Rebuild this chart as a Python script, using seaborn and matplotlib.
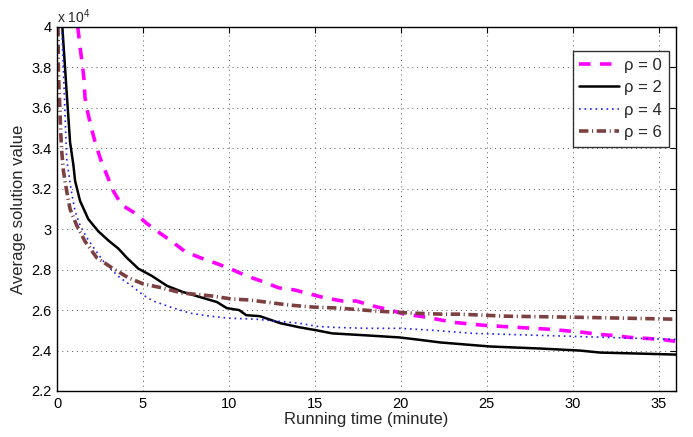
import numpy as np
import pandas as pd
import matplotlib
matplotlib.use("Agg")
import matplotlib.pyplot as plt
import seaborn as sns
from matplotlib.ticker import FuncFormatter, MultipleLocator

# ==== data (x in minutes, y raw solution value) ====
rho0_x = [1.21, 1.34, 1.47, 1.57, 1.63, 1.78, 2.0, 2.25, 2.56, 3.27, 3.76, 4.53, 5.2, 6.0,
          6.67, 7.44, 8.3, 9.3, 10.2, 11.0, 12.0, 12.9, 13.8, 14.7, 15.6, 16.6, 17.4, 18.4,
          19.4, 20.2, 21.1, 22.1, 23.0, 24.8, 26.7, 28.7, 30.6, 31.5, 32.3, 33.3, 34.3, 35.2,
          36.0]
rho0_y = [40000, 39000, 38200, 37400, 36500, 35800, 35000, 34200, 33400, 31900, 31200, 30800,
          30300, 29800, 29400, 28900, 28600, 28300, 28000, 27700, 27400, 27100, 27000, 26800,
          26600, 26450, 26450, 26200, 26000, 25800, 25700, 25550, 25400, 25250, 25150, 25050,
          24900, 24800, 24750, 24650, 24600, 24550, 24450]

rho2_x = [0.31, 0.56, 0.76, 0.95, 1.05, 1.34, 1.82, 2.4, 2.98, 3.56, 4.05, 4.73, 5.5, 6.4,
          7.3, 8.3, 9.3, 9.87, 10.6, 11.0, 11.8, 13.0, 14.1, 15.1, 16.0, 18.0, 19.9, 20.9,
          22.3, 25.2, 28.1, 30.4, 31.6, 33.9, 36.0]
rho2_y = [40000, 36800, 34300, 33200, 32400, 31400, 30500, 29900, 29450, 29050, 28600, 28050,
          27700, 27200, 26900, 26650, 26400, 26100, 26000, 25750, 25700, 25350, 25150, 25000,
          24850, 24750, 24650, 24550, 24400, 24200, 24100, 24000, 23900, 23850, 23800]

rho4_x = [0.28, 0.42, 0.56, 0.62, 0.85, 1.05, 1.34, 1.72, 2.2, 2.8, 3.66, 4.34, 5.0, 5.6,
          6.6, 7.73, 8.9, 10.0, 11.6, 12.2, 14.1, 15.1, 16.0, 18.0, 19.9, 21.9, 24.2, 28.1,
          32.0, 36.0]
rho4_y = [40000, 36800, 33500, 33100, 31800, 30900, 30200, 29600, 29000, 28300, 27600, 27200,
          26750, 26450, 26150, 25850, 25700, 25600, 25550, 25500, 25350, 25200, 25150, 25100,
          25100, 25000, 24850, 24750, 24650, 24550]

rho6_x = [0.06, 0.08, 0.12, 0.17, 0.21, 0.27, 0.37, 0.56, 0.76, 1.14, 1.63, 2.3, 3.18, 4.15,
          5.0, 6.1, 7.25, 9.0, 10.15, 11.2, 13.5, 14.9, 16.4, 18.6, 20.7, 22.4, 23.4, 26.1,
          30.0, 33.1, 36.0]
rho6_y = [40000, 37900, 36900, 35900, 34900, 33900, 32900, 31900, 31000, 30200, 29400, 28600,
          28100, 27600, 27300, 27100, 26850, 26700, 26550, 26500, 26250, 26150, 26100, 25950,
          25850, 25800, 25800, 25700, 25650, 25600, 25550]

labels = ["ρ = 0", "ρ = 2", "ρ = 4", "ρ = 6"]
xticks = [0, 5, 10, 15, 20, 25, 30, 35]

sns.set_style("white")
plt.rcParams["font.family"] = ["Liberation Sans", "DejaVu Sans"]
plt.rcParams["mathtext.fontset"] = "custom"
plt.rcParams["mathtext.rm"] = "Liberation Sans"

fig = plt.figure(figsize=(6.93, 4.37), dpi=100)
ax = fig.add_axes([57 / 693, 1 - 391 / 437, 619 / 693, 364 / 437])

styles = [
    dict(color="#ff00ff", lw=2.6, linestyle=(0, (3.2, 2.6))),
    dict(color="black", lw=1.8, linestyle="-"),
    dict(color="#1f1fff", lw=1.2, linestyle=(0, (1.0, 2.3))),
    dict(color="#7d4040", lw=2.6, linestyle=(0, (2.6, 1.0, 0.3, 1.0))),
]
series = [(rho0_x, rho0_y), (rho2_x, rho2_y), (rho4_x, rho4_y), (rho6_x, rho6_y)]

for (xs, ys), lab, st in zip(series, labels, styles):
    df = pd.DataFrame({"t": xs, "v": ys})
    sns.lineplot(data=df, x="t", y="v", ax=ax, label=lab, sort=False, estimator=None, **st)

ax.set_xlim(0, 36)
ax.set_ylim(22000, 40000)
ax.set_xticks(xticks)
ax.yaxis.set_major_locator(MultipleLocator(2000))
ax.yaxis.set_major_formatter(FuncFormatter(lambda v, p: f"{v / 1e4:g}"))

ax.grid(True, color="0.35", linestyle=(0, (1, 4)), linewidth=0.7)
ax.tick_params(direction="in", length=4, width=0.8, top=True, right=True,
               labelsize=10.5, colors="black", pad=4)
for sp in ax.spines.values():
    sp.set_color("black")
    sp.set_linewidth(1.0)

ax.set_xlabel("Running time (minute)", fontsize=12, labelpad=1)
ax.set_ylabel("Average solution value", fontsize=12, labelpad=4)
ax.text(0.0, 1.004, r"x 10$^{4}$", transform=ax.transAxes, fontsize=10,
        ha="left", va="bottom")

leg = ax.legend(loc="upper right", bbox_to_anchor=(0.9887, 0.934), borderaxespad=0,
                fontsize=12, frameon=True, fancybox=False, handlelength=2.4,
                labelspacing=0.45, handletextpad=0.3, borderpad=0.4)
leg.get_frame().set_edgecolor("black")
leg.get_frame().set_linewidth(1.0)

fig.savefig("out.png", dpi=100)
